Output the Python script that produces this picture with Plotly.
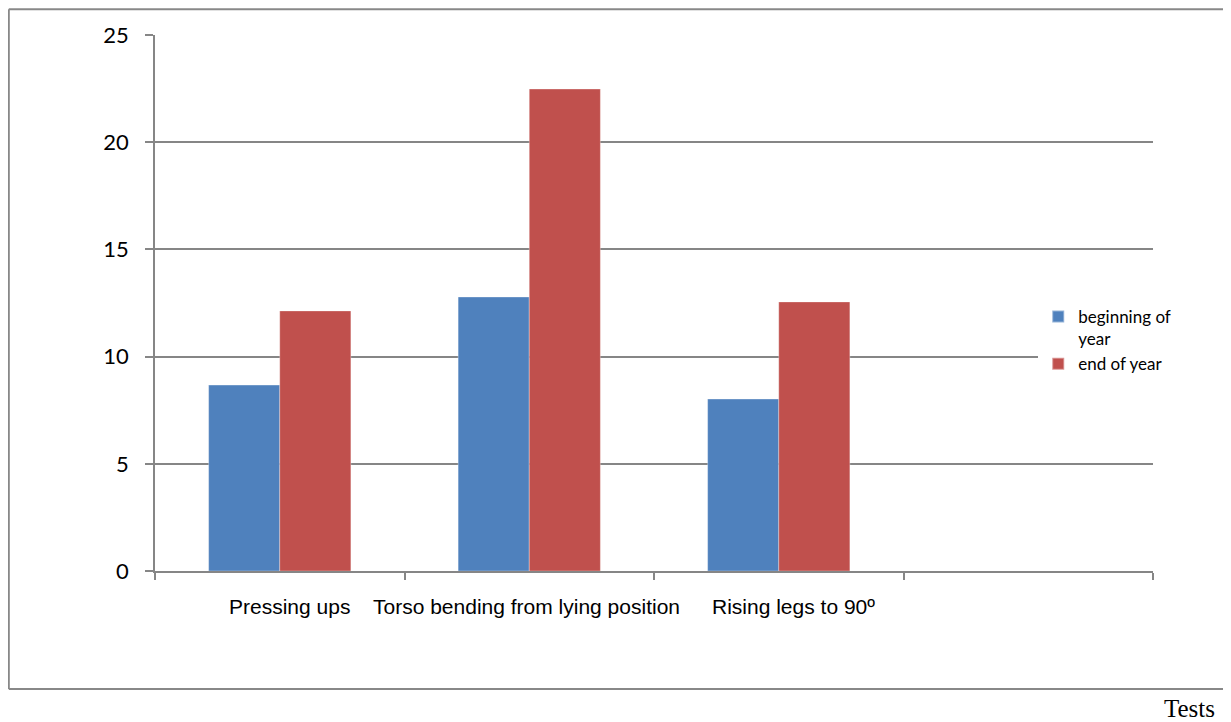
import plotly.graph_objects as go

categories = ["Pressing ups", "Torso bending from lying position", "Rising legs to 90º", " "]
beginning = [8.67, 12.78, 8.02, None]
end = [12.13, 22.48, 12.55, None]
series_names = ["beginning of<br>year", "end of year"]
y_ticks = [0, 5, 10, 15, 20, 25]
label_shift = [10, -3, 15, 0]  # small horizontal offsets of the category labels

fig = go.Figure()
fig.add_trace(go.Bar(x=categories, y=beginning, name=series_names[0],
                     marker=dict(color="#4F81BD", line=dict(color="rgba(255,255,255,0.4)", width=0.8))))
fig.add_trace(go.Bar(x=categories, y=end, name=series_names[1],
                     marker=dict(color="#C0504D", line=dict(color="rgba(255,255,255,0.4)", width=0.8))))

fig.update_layout(
    width=1223, height=714,
    margin=dict(l=147, r=78, t=27, b=151, autoexpand=False),
    paper_bgcolor="white", plot_bgcolor="white",
    barmode="group", bargap=0.43, bargroupgap=0,
    showlegend=True,
    legend=dict(x=0.885, xanchor="left", y=0.43, yanchor="middle", valign="top",
                font=dict(family="Lato, Open Sans, sans-serif", size=17, color="black"),
                itemsizing="constant", bgcolor="white"),
    xaxis=dict(type="category", categoryorder="array", categoryarray=categories,
               range=[-0.5, 3.5], tickson="boundaries", ticks="outside", ticklen=7,
               tickcolor="#868686", tickwidth=1.5, tickangle=0, automargin=False,
               showline=True, linecolor="#868686", linewidth=1.5,
               showgrid=False, showticklabels=False),
    yaxis=dict(range=[0, 25], tickvals=y_ticks, ticks="outside", ticklen=8,
               tickcolor="#868686", tickwidth=1.5, automargin=False,
               showline=True, linecolor="#868686", linewidth=1.5,
               showgrid=True, gridcolor="#868686", gridwidth=1.5, zeroline=False,
               ticklabelstandoff=12,
               tickfont=dict(family="Lato, Open Sans, sans-serif", size=22, color="black")),
)

# category labels (kept as text, placed on the category positions)
for cat, dx in zip(categories, label_shift):
    if cat.strip():
        fig.add_annotation(text=cat, x=cat, xref="x", y=-0.067, yref="paper",
                           xshift=dx, showarrow=False, xanchor="center", yanchor="middle",
                           font=dict(family="Liberation Sans, Arial, sans-serif", size=21, color="black"))

# outer chart border (open on the right, as in the reference)
bx0, bx1, by0, by1 = -0.1465, 1.09, 1.048, -0.220
fig.add_shape(type="line", xref="paper", yref="paper", x0=bx0, x1=bx1, y0=by0, y1=by0,
              line=dict(color="#888888", width=2))
fig.add_shape(type="line", xref="paper", yref="paper", x0=bx0, x1=bx0, y0=by0, y1=by1,
              line=dict(color="#888888", width=2))
fig.add_shape(type="line", xref="paper", yref="paper", x0=bx0, x1=bx1, y0=by1, y1=by1,
              line=dict(color="#888888", width=2))

fig.add_annotation(text="Tests", xref="paper", yref="paper", x=1.037, y=-0.2556,
                   showarrow=False, xanchor="center", yanchor="middle",
                   font=dict(family="Liberation Serif, Times New Roman, serif", size=25, color="black"))

fig.write_html("out.html")
